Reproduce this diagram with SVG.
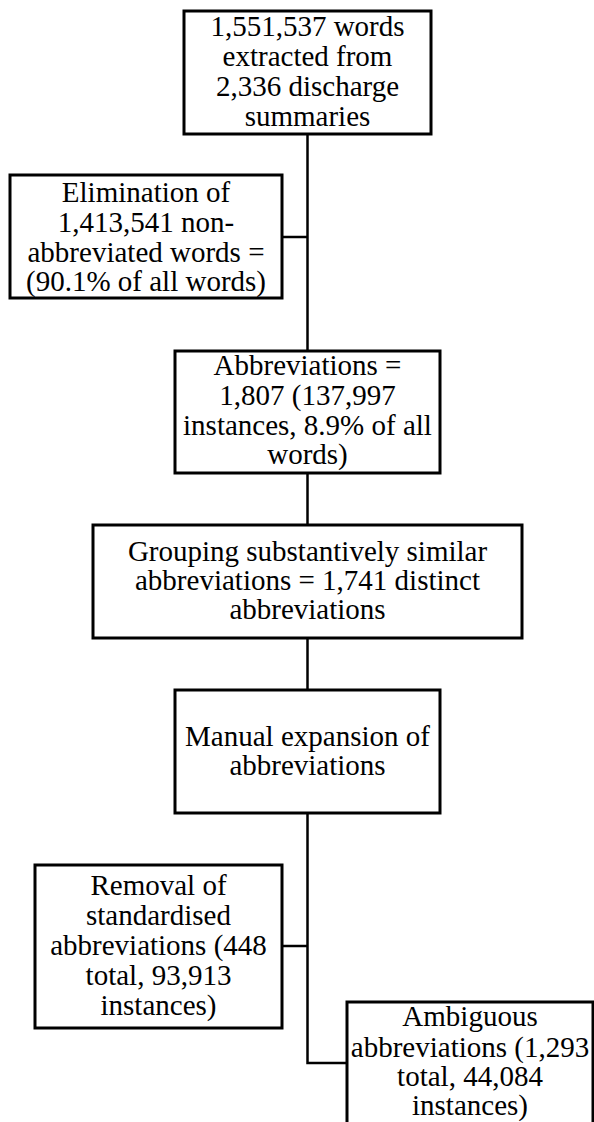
<svg xmlns="http://www.w3.org/2000/svg" width="594" height="1122" viewBox="0 0 594 1122">
<style>
.box{fill:#fff;stroke:#000;stroke-width:3}
.t{font-family:"Liberation Serif","Times New Roman",serif;font-size:29px;fill:#000;text-anchor:middle}
.c{fill:none;stroke:#000;stroke-width:2.5}
</style>
<rect width="594" height="1122" fill="#fff"/>
<g id="connectors">
<path class="c" d="M307.5 134 V351"/>
<path class="c" d="M282 237 H307.5"/>
<path class="c" d="M307.5 473 V525"/>
<path class="c" d="M307.5 638 V690"/>
<path class="c" d="M307.5 813 V1063 H347"/>
<path class="c" d="M282 946 H307.5"/>
</g>
<g id="n1">
<rect class="box" x="184" y="11" width="247" height="123"/>
<text class="t" x="307.5"><tspan x="307.5" y="36">1,551,537 words</tspan><tspan x="307.5" y="66">extracted from</tspan><tspan x="307.5" y="96">2,336 discharge</tspan><tspan x="307.5" y="126">summaries</tspan></text>
</g>
<g id="n2">
<rect class="box" x="10" y="175" width="272" height="123"/>
<text class="t" x="146"><tspan x="146" y="202">Elimination of</tspan><tspan x="146" y="232">1,413,541 non-</tspan><tspan x="146" y="262">abbreviated words =</tspan><tspan x="146" y="291">(90.1% of all words)</tspan></text>
</g>
<g id="n3">
<rect class="box" x="175" y="351" width="265" height="122"/>
<text class="t" x="307.5"><tspan x="307.5" y="375">Abbreviations =</tspan><tspan x="307.5" y="405">1,807 (137,997</tspan><tspan x="307.5" y="435">instances, 8.9% of all</tspan><tspan x="307.5" y="464">words)</tspan></text>
</g>
<g id="n4">
<rect class="box" x="93" y="525" width="429" height="113"/>
<text class="t" x="307.5"><tspan x="307.5" y="561">Grouping substantively similar</tspan><tspan x="307.5" y="590">abbreviations = 1,741 distinct</tspan><tspan x="307.5" y="619">abbreviations</tspan></text>
</g>
<g id="n5">
<rect class="box" x="175" y="690" width="265" height="123"/>
<text class="t" x="307.5"><tspan x="307.5" y="746">Manual expansion of</tspan><tspan x="307.5" y="775">abbreviations</tspan></text>
</g>
<g id="n6">
<rect class="box" x="35" y="865" width="247" height="163"/>
<text class="t" x="158.5"><tspan x="158.5" y="895">Removal of</tspan><tspan x="158.5" y="925">standardised</tspan><tspan x="158.5" y="955">abbreviations (448</tspan><tspan x="158.5" y="985">total, 93,913</tspan><tspan x="158.5" y="1015">instances)</tspan></text>
</g>
<g id="n7">
<rect class="box" x="347" y="1002" width="246" height="140"/>
<text class="t" x="470"><tspan x="470" y="1026">Ambiguous</tspan><tspan x="470" y="1057">abbreviations (1,293</tspan><tspan x="470" y="1086">total, 44,084</tspan><tspan x="470" y="1115">instances)</tspan></text>
</g>
</svg>
